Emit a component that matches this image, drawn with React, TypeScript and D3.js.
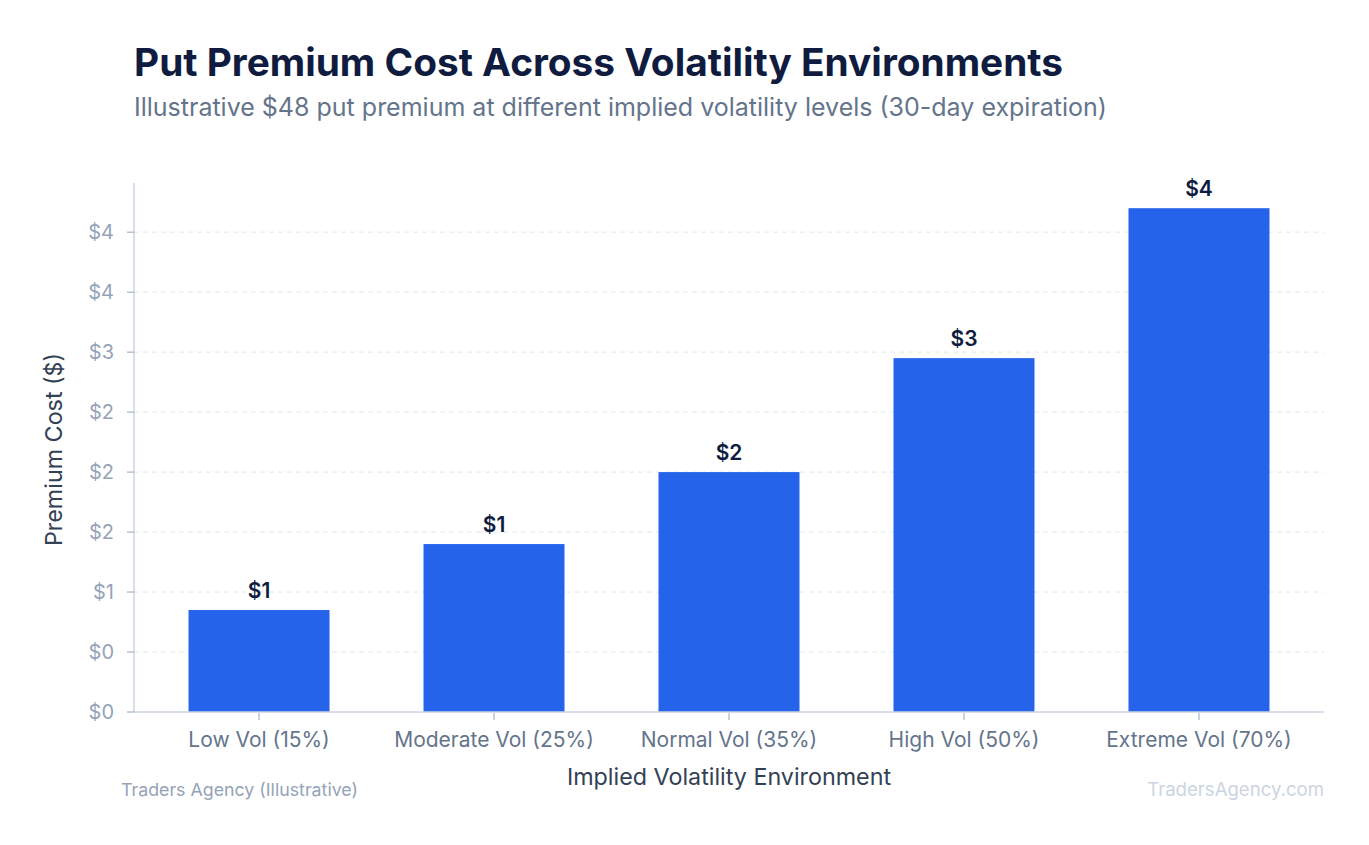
import React, { useEffect, useRef } from "react";
import * as d3 from "d3";

const categories = [
  "Low Vol (15%)",
  "Moderate Vol (25%)",
  "Normal Vol (35%)",
  "High Vol (50%)",
  "Extreme Vol (70%)",
];
const premiums = [0.85, 1.4, 2.0, 2.95, 4.2];
const premiumLabels = ["$1", "$1", "$2", "$3", "$4"];
const yTicks = [0, 0.5, 1, 1.5, 2, 2.5, 3, 3.5, 4];
const yTickLabels = ["$0", "$0", "$1", "$2", "$2", "$2", "$3", "$4", "$4"];

const W = 1369;
const H = 845;
const margin = { top: 183, right: 45, bottom: 133, left: 134 };
const FONT = "Inter, 'Noto Sans', sans-serif";

const App: React.FC = () => {
  const svgRef = useRef<SVGSVGElement | null>(null);

  useEffect(() => {
    if (!svgRef.current) return;
    const svg = d3.select(svgRef.current);
    svg.selectAll("*").remove();

    const x0 = margin.left;
    const x1 = W - margin.right;
    const y0 = H - margin.bottom;
    const y1 = margin.top;

    const x = d3
      .scaleBand<string>()
      .domain(categories)
      .range([x0, x1])
      .paddingInner(0.4)
      .paddingOuter(0.232);

    const y = d3
      .scaleLinear()
      .domain([0, 4.2 * 1.05])
      .range([y0, y1]);

    // title
    svg
      .append("text")
      .attr("x", 134)
      .attr("y", 76)
      .attr("font-family", FONT)
      .attr("font-size", 38.8)
      .attr("font-weight", 700)
      .attr("fill", "#0f1c3f")
      .text("Put Premium Cost Across Volatility Environments");

    svg
      .append("text")
      .attr("x", 134)
      .attr("y", 116)
      .attr("font-family", FONT)
      .attr("font-size", 25)
      .attr("fill", "#64748b")
      .text(
        "Illustrative $48 put premium at different implied volatility levels (30-day expiration)"
      );

    // gridlines
    svg
      .append("g")
      .selectAll("line")
      .data(yTicks.slice(1))
      .enter()
      .append("line")
      .attr("x1", x0)
      .attr("x2", x1)
      .attr("y1", (d) => y(d))
      .attr("y2", (d) => y(d))
      .attr("stroke", "#e5e7eb")
      .attr("stroke-dasharray", "5,4")
      .attr("stroke-width", 1);

    // bars
    svg
      .append("g")
      .selectAll("rect")
      .data(premiums)
      .enter()
      .append("rect")
      .attr("x", (d, i) => x(categories[i])!)
      .attr("y", (d) => y(d))
      .attr("width", x.bandwidth())
      .attr("height", (d) => y0 - y(d))
      .attr("fill", "#2563eb");

    // value labels
    svg
      .append("g")
      .selectAll("text")
      .data(premiums)
      .enter()
      .append("text")
      .attr("x", (d, i) => x(categories[i])! + x.bandwidth() / 2)
      .attr("y", (d) => y(d) - 12)
      .attr("text-anchor", "middle")
      .attr("font-family", FONT)
      .attr("font-size", 21)
      .attr("font-weight", 600)
      .attr("fill", "#0f1c3f")
      .text((d, i) => premiumLabels[i]);

    // y axis
    const yAxis = svg.append("g");
    yAxis
      .append("line")
      .attr("x1", x0)
      .attr("x2", x0)
      .attr("y1", y1)
      .attr("y2", y0)
      .attr("stroke", "#cbd5e1")
      .attr("stroke-width", 1.5);
    const yt = yAxis
      .selectAll("g.tick")
      .data(yTicks)
      .enter()
      .append("g")
      .attr("transform", (d) => `translate(0,${y(d)})`);
    yt.append("line")
      .attr("x1", x0 - 7)
      .attr("x2", x0)
      .attr("stroke", "#94a3b8")
      .attr("stroke-width", 1);
    yt.append("text")
      .attr("x", x0 - 20)
      .attr("dy", "0.35em")
      .attr("text-anchor", "end")
      .attr("font-family", FONT)
      .attr("font-size", 20)
      .attr("fill", "#94a3b8")
      .text((d, i) => yTickLabels[i]);

    // x axis
    const xAxis = svg.append("g");
    xAxis
      .append("line")
      .attr("x1", x0)
      .attr("x2", x1)
      .attr("y1", y0)
      .attr("y2", y0)
      .attr("stroke", "#cbd5e1")
      .attr("stroke-width", 1.5);
    const xt = xAxis
      .selectAll("g.tick")
      .data(categories)
      .enter()
      .append("g")
      .attr("transform", (d) => `translate(${x(d)! + x.bandwidth() / 2},${y0})`);
    xt.append("line")
      .attr("y1", 1)
      .attr("y2", 8)
      .attr("stroke", "#94a3b8")
      .attr("stroke-width", 1);
    xt.append("text")
      .attr("y", 35)
      .attr("text-anchor", "middle")
      .attr("font-family", FONT)
      .attr("font-size", 21)
      .attr("fill", "#64748b")
      .text((d) => d);

    // axis titles
    svg
      .append("text")
      .attr("x", (x0 + x1) / 2)
      .attr("y", 785)
      .attr("text-anchor", "middle")
      .attr("font-family", FONT)
      .attr("font-size", 23.3)
      .attr("fill", "#334155")
      .text("Implied Volatility Environment");

    svg
      .append("text")
      .attr("transform", `translate(62,${(y0 + y1) / 2 + 2}) rotate(-90)`)
      .attr("text-anchor", "middle")
      .attr("font-family", FONT)
      .attr("font-size", 23.3)
      .attr("fill", "#334155")
      .text("Premium Cost ($)");

    // footer
    svg
      .append("text")
      .attr("x", 121)
      .attr("y", 796)
      .attr("font-family", FONT)
      .attr("font-size", 17.8)
      .attr("fill", "#94a3b8")
      .text("Traders Agency (Illustrative)");

    svg
      .append("text")
      .attr("x", 1324)
      .attr("y", 796)
      .attr("text-anchor", "end")
      .attr("font-family", FONT)
      .attr("font-size", 18.6)
      .attr("fill", "#cbd5e1")
      .text("TradersAgency.com");
  }, []);

  return (
    <div style={{ position: "absolute", left: 0, top: 0 }}>
      <svg ref={svgRef} width={W} height={H} style={{ display: "block", background: "#fff" }} />
    </div>
  );
};

export default App;
